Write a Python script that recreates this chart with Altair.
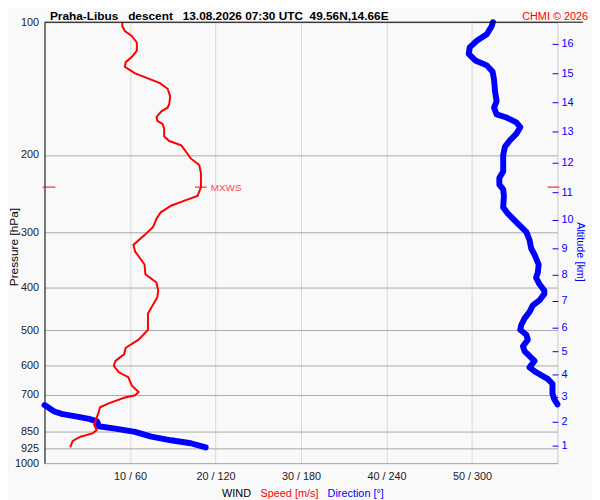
import altair as alt
import pandas as pd

# ---- data ----
speed_p = [100.0, 102.1, 104.7, 107.4, 111.2, 116.0, 120.0, 123.2, 126.3, 130.7, 134.1, 137.5, 141.6, 147.3, 153.1,
           156.3, 159.1, 164.0, 167.4, 170.2, 174.6, 181.6, 186.0, 190.2, 198.5, 203.7, 210.8, 219.9,
           236.6, 247.7, 254.2, 260.8, 269.9, 279.2, 291.3, 304.0, 320.0, 331.1, 354.5, 373.1,
           389.4, 406.3, 420.5, 457.8, 498.5, 524.8, 547.5, 566.6, 586.4, 601.6, 622.3, 638.5, 666.6, 689.4, 701.5,
           709.8, 731.9, 747.0, 770.4, 797.2, 817.9, 841.6, 856.4, 871.0, 890.5, 921.3]
speed_v = [9.1, 9.1, 9.4, 10.2, 10.8, 10.8, 10.2, 9.5, 9.4, 10.6, 12.1, 13.5, 14.4, 14.7, 14.6,
           14.4, 13.7, 13.1, 13.2, 13.8, 14.0, 14.0, 14.6, 16.0, 16.7, 17.1, 18.1, 18.3,
           18.3, 17.9, 16.3, 14.8, 13.6, 13.1, 12.7, 11.7, 10.4, 10.6, 11.7, 11.8,
           13.1, 13.3, 13.2, 12.1, 12.1, 11.0, 9.5, 9.3, 8.3, 8.1, 8.7, 9.8, 10.2, 11.0, 10.6,
           9.4, 7.5, 6.5, 6.3, 6.0, 5.8, 6.1, 5.6, 4.2, 3.3, 3.0]

# direction, upper part (before wrapping through north)
dir1_p = [100.0, 102.1, 106.5, 110.2, 114.1, 118.0, 122.1, 125.3, 129.6, 135.3,
          143.6, 151.1, 156.3, 161.8, 164.5, 168.8, 173.1, 179.2, 185.4, 191.8,
          200.3, 218.0, 225.6, 233.5, 239.5, 247.7, 263.0, 272.2, 284.0, 298.9,
          311.9, 325.6, 336.8, 354.5, 370.0, 379.6, 392.6, 406.3, 413.2, 427.6,
          438.7, 454.0, 469.6, 486.0, 498.5, 511.5, 524.8, 543.1, 557.2, 576.5,
          586.4, 606.6, 622.3, 644.1, 660.7, 695.4, 715.9, 735.8]
dir1_v = [314.7, 313.8, 310.4, 303.4, 298.4, 297.7, 302.3, 310.4, 314.5, 315.5,
          316.2, 317.3, 315.5, 317.3, 324.2, 331.1, 333.9, 331.1, 326.6, 323.1,
          321.9, 321.9, 319.2, 319.2, 321.9, 322.4, 321.9, 325.4, 331.1, 338.1,
          340.4, 341.5, 343.9, 346.8, 346.2, 345.0, 347.3, 350.8, 350.8, 347.3,
          342.7, 340.4, 336.9, 334.6, 333.9, 338.1, 339.2, 335.8, 336.9, 341.5,
          343.9, 340.4, 345.0, 353.1, 356.5, 356.5, 357.7, 360.0]
# direction, lower part (after wrapping)
dir2_p = [738.3, 750.9, 763.6, 774.2, 783.4, 793.4, 803.9, 824.9, 835.2, 849.2, 871.0, 887.6, 901.4, 921.3]
dir2_v = [0.0, 3.5, 6.9, 12.7, 21.9, 31.2, 36.9, 38.1, 49.6, 63.5, 75.0, 88.8, 102.7, 113.1]

p_ticks = [100, 200, 300, 400, 500, 600, 700, 850, 925, 1000]
x_ticks = [10, 20, 30, 40, 50, 60]

alt_km = [1, 2, 3, 4, 5, 6, 7, 8, 9, 10, 11, 12, 13, 14, 15, 16]
alt_p = [915.1, 807.9, 709.6, 631.0, 558.8, 494.3, 430.0, 375.0, 326.6, 281.6, 243.6, 208.9, 177.4, 152.3, 130.9, 112.3]

mxws_p = [236.6]
mxws_v = [18.3]

NB = "\u00a0"
title_txt = f"Praha-Libus{NB*3}descent{NB*3}13.08.2026 07:30 UTC{NB*2}49.56N,14.66E"
credit_txt = "CHMI © 2026"

# ---- tables ----
spd = pd.DataFrame({"p": speed_p, "v": speed_v})
spd["i"] = range(len(spd))
drc = pd.concat([
    pd.DataFrame({"p": dir1_p, "deg": dir1_v, "seg": 1}),
    pd.DataFrame({"p": dir2_p, "deg": dir2_v, "seg": 2}),
], ignore_index=True)
drc["i"] = range(len(drc))
alti = pd.DataFrame({"p": alt_p, "km": [str(k) for k in alt_km]})
mx = pd.DataFrame({"p": mxws_p, "v": mxws_v})
one = pd.DataFrame({"a": [0]})

FONT = "Liberation Sans"
RED = "#ff0000"
BLUE = "#0000ff"

x_scale = alt.Scale(domain=[0, 60], nice=False, zero=False)
y_scale = alt.Scale(type="log", domain=[100, 1000], reverse=True, nice=False)

x_axis = alt.Axis(values=x_ticks,
                  labelExpr="datum.value < 60 ? datum.value + ' / ' + datum.value * 6 : ''",
                  domain=False, ticks=False, grid=True, gridColor="#d8d8d8",
                  labelFontSize=11, labelPadding=8, labelColor="#222222", title=None,
                  labelFlush=False, labelOverlap=False)
y_axis = alt.Axis(values=p_ticks, format="d", domain=True, domainColor="#000000",
                  ticks=False, grid=True, gridColor="#a8a8a8",
                  labelFontSize=11, labelPadding=6, labelColor="#222222", title=None,
                  labelOverlap=False)

X = lambda f: alt.X(f, type="quantitative", scale=x_scale, axis=x_axis)
Y = lambda f: alt.Y(f, type="quantitative", scale=y_scale, axis=y_axis)

dir_line = alt.Chart(drc).transform_calculate(xv="datum.deg / 6").mark_line(
    color=BLUE, strokeWidth=6, strokeCap="round", strokeJoin="round").encode(
    x=X("xv"), y=Y("p"), detail="seg:N", order="i:Q")

spd_line = alt.Chart(spd).mark_line(color=RED, strokeWidth=2).encode(
    x=X("v"), y=Y("p"), order="i:Q")

mx_cross = alt.Chart(mx).mark_rule(color=RED, strokeWidth=1, xOffset=-6, x2Offset=6).encode(
    x=X("v"), x2="v:Q", y=Y("p"))
mx_text = alt.Chart(mx).mark_text(color="#ff4a4a", font=FONT, fontSize=10, align="left",
                                  baseline="middle", dx=10, dy=1).encode(
    x=X("v"), y=Y("p"), text=alt.value("MXWS"))
mx_left = alt.Chart(mx).mark_rule(color=RED, strokeWidth=1).encode(
    x=alt.value(-2), x2=alt.value(11), y=Y("p"))
mx_right = alt.Chart(mx).mark_rule(color=RED, strokeWidth=1).encode(
    x=alt.value(510), x2=alt.value(522), y=Y("p"))

alt_ticks = alt.Chart(alti).mark_rule(color=BLUE, strokeWidth=1).encode(
    x=alt.value(515), x2=alt.value(521), y=Y("p"))
alt_labels = alt.Chart(alti).mark_text(color=BLUE, font=FONT, fontSize=11, align="left",
                                       baseline="middle").encode(
    x=alt.value(524), y=Y("p"), text="km:N")

top_line = alt.Chart(one).mark_rule(color="#000000", strokeWidth=1).encode(
    x=alt.value(0), x2=alt.value(546), y=alt.value(0))


def label(txt, x, y, color="#000000", size=11, weight="normal", align="left", angle=0, baseline="alphabetic"):
    return alt.Chart(one).mark_text(text=txt, color=color, font=FONT, fontSize=size, fontWeight=weight,
                                    align=align, angle=angle, baseline=baseline).encode(
        x=alt.value(x), y=alt.value(y))


texts = [
    label(title_txt, 5.5, -2.5, size=12, weight="bold"),
    label(credit_txt, 551, -2.5, color=RED, size=11, align="right"),
    label("Pressure [hPa]", -31, 228, size=12, align="center", angle=270, baseline="middle"),
    label("Altitude [km]", 543, 233, color=BLUE, size=11, align="center", angle=90, baseline="middle"),
    label("WIND", 180, 481),
    label("Speed [m/s]", 219, 481, color=RED),
    label("Direction [°]", 287, 481, color=BLUE),
]

chart = alt.layer(
    dir_line, spd_line, mx_cross, mx_text, mx_left, mx_right,
    alt_ticks, alt_labels, top_line, *texts
).properties(
    width=520, height=447,
    autosize=alt.AutoSizeParams(type="none"),
    padding={"left": 37, "top": 11, "right": 35, "bottom": 34},
    background="#f9f9f9",
).configure_view(fill="#f0f0ff", stroke=None).configure(font=FONT)

chart.save("out.html", embed_options={"renderer": "svg", "actions": False})
